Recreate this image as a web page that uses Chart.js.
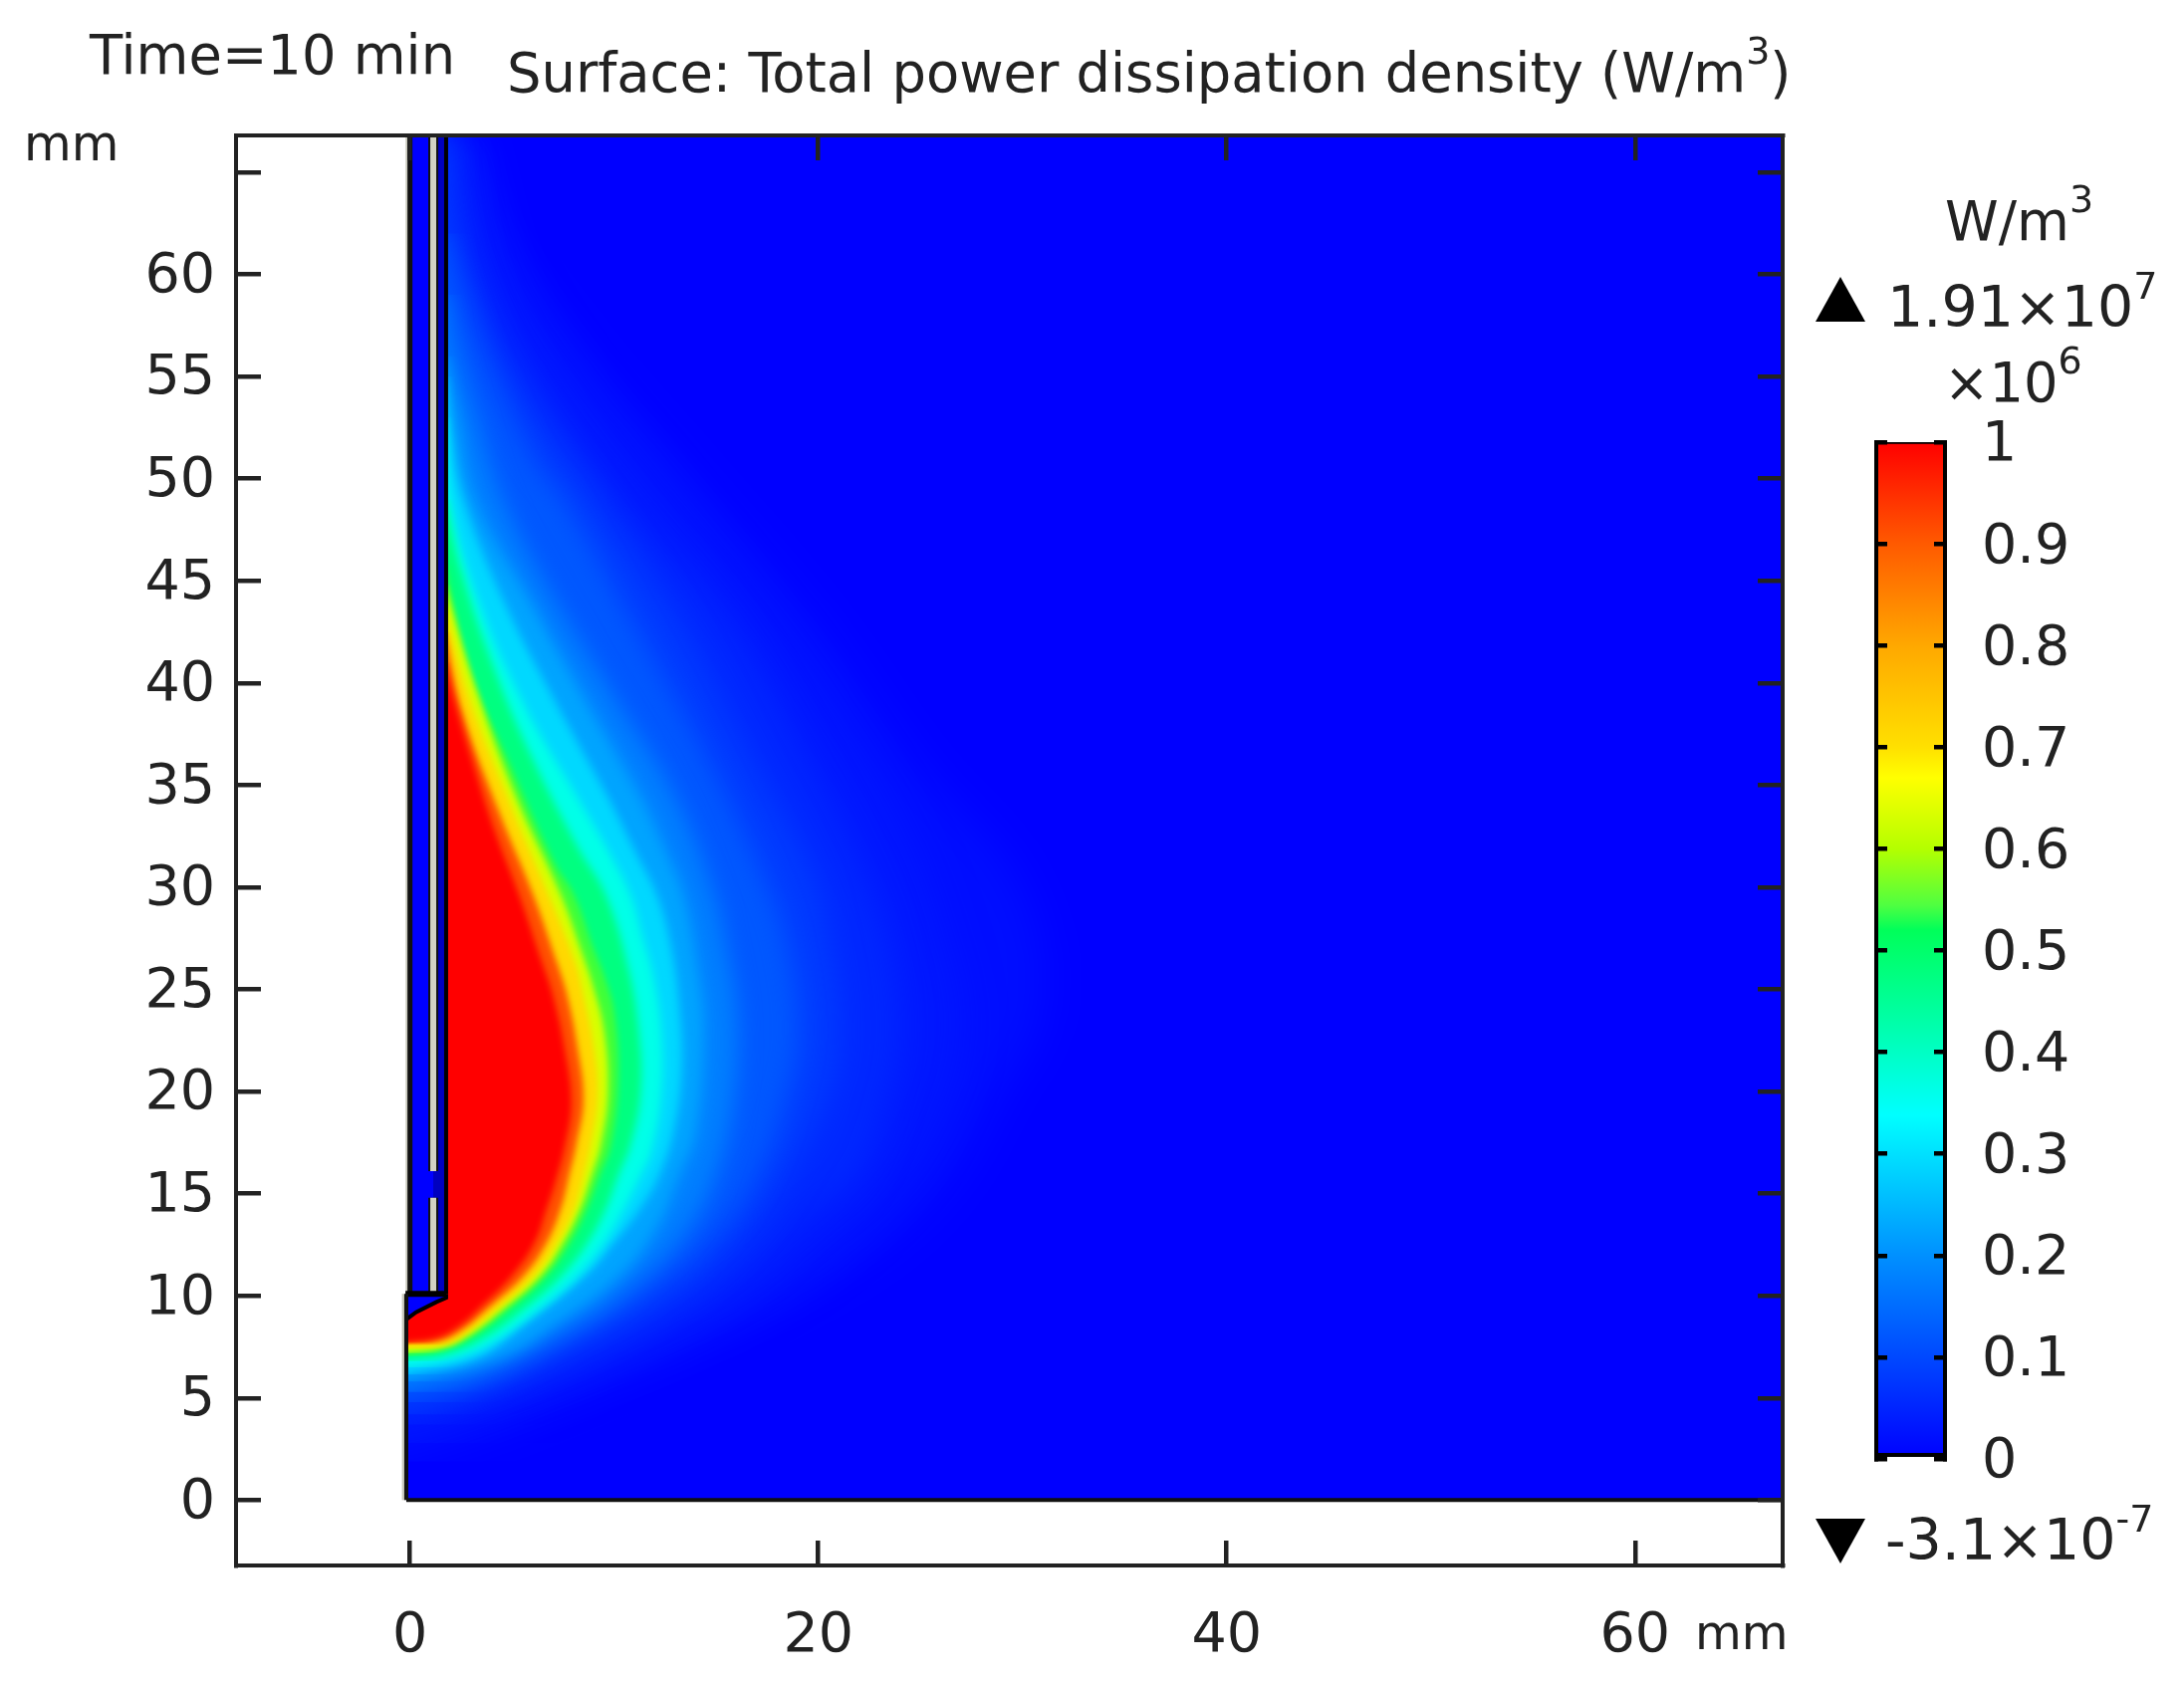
<!DOCTYPE html>
<html>
<head>
<meta charset="utf-8">
<title>Total power dissipation density</title>
<script src="https://cdn.jsdelivr.net/npm/chart.js@4/dist/chart.umd.js"></script>
<style>
html, body { margin: 0; padding: 0; background: #fff; }
#page { position: relative; width: 2193px; height: 1688px; overflow: hidden; filter: blur(0.7px); font-family: "DejaVu Sans"; color: #222; }
canvas { position: absolute; left: 0; top: 0; }
.txt { position: absolute; line-height: 0; white-space: nowrap; font-size: 54.3px; }
.txt i { font-style: normal; font-size: 38px; position: relative; top: -28px; }
.up, .down { position: absolute; left: 1823px; width: 0; height: 0; border-left: 25px solid transparent; border-right: 25px solid transparent; }
.up { top: 278px; border-bottom: 45px solid #000; }
.down { top: 1525px; border-top: 45px solid #000; }
</style>
</head>
<body>
<div id="page">
<canvas id="field" width="2193" height="1688"></canvas>
<canvas id="bar" width="2193" height="1688"></canvas>
<div class="txt" style="left:90px;top:56px">Time=10 min</div>
<div class="txt" style="left:509px;top:74px">Surface: Total power dissipation density (W/m<i>3</i>)</div>
<div class="txt" style="left:24px;top:145px;font-size:49px">mm</div>
<div class="txt" style="left:1702px;top:1639px;font-size:48px">mm</div>
<div class="txt" style="left:1953px;top:223px">W/m<i>3</i></div>
<div class="up"></div>
<div class="txt" style="left:1895px;top:308px;font-size:57px">1.91×10<i>7</i></div>
<div class="txt" style="left:1952px;top:385px">×10<i>6</i></div>
<div class="down"></div>
<div class="txt" style="left:1893px;top:1546px;font-size:57px">-3.1×10<i>-7</i></div>
</div>
<script>
// axis ranges and ticks (mm)
const xRange = [-8.52, 67.23];
const yRange = [-3.2, 66.8];
const xTicks = [0, 20, 40, 60];
const yTicks = [0, 5, 10, 15, 20, 25, 30, 35, 40, 45, 50, 55, 60, 65];
const yTickLabels = ['0', '5', '10', '15', '20', '25', '30', '35', '40', '45', '50', '55', '60', ''];

// contour lines of the field, [x mm, y mm], bottom to top
const contour100 = [[-0.3,7.7],[1.34,7.95],[2.5,8.6],[3.4,9.4],[5,11],[6.1,12.6],[6.7,14.3],[7.1,15.5],[7.6,17.4],[7.9,19.5],[7.55,22.2],[7,24.7],[6.4,26.5],[5.35,29.6],[4.13,32.8],[3.1,36],[2.2,39],[1.7,41]];
const contour085 = [[-0.3,7.6],[1.5,7.8],[2.65,8.4],[3.85,9.4],[5.6,11],[6.7,12.6],[7.4,14.3],[7.8,15.9],[8.15,17.4],[8.5,19.6],[8.2,22.2],[7.7,24.7],[7.2,26.3],[6.05,29.6],[4.4,33.6],[2.6,38.5],[1.7,42.5]];
const contour067 = [[-0.3,7.4],[1.7,7.6],[2.8,8.2],[4.3,9.4],[6.1,11],[7.2,12.6],[8.05,14.3],[8.5,15.9],[8.85,17.4],[9.2,19.8],[9,22.2],[8.5,24.7],[8.1,26.3],[6.8,29.6],[4.77,34.4],[2.9,39.3],[1.7,43.7]];
const contour060 = [[-0.3,7.2],[1.5,7.45],[2.9,8.1],[4.6,9.4],[6.4,11],[7.5,12.6],[8.35,14.3],[8.9,15.9],[9.35,17.4],[9.7,20],[9.5,23],[8.95,25.2],[8.45,26.7],[7.4,29.6],[5.2,34.4],[3.3,39.5],[1.7,44.8]];
const contour052 = [[-0.3,7.05],[1.34,7.3],[3,8],[4.9,9.4],[6.7,11],[7.85,12.6],[8.7,14.3],[9.3,15.9],[9.85,17.4],[10.2,20.6],[10,23.9],[9.5,25.7],[8.95,27.1],[8.05,29.6],[7.07,31.2],[4.9,36],[2.8,40.9],[1.7,45.8]];
const contour043 = [[-0.3,6.8],[1.7,7.1],[3.5,7.85],[5.65,9.4],[7.45,11],[8.7,12.6],[9.6,14.3],[10.2,15.9],[10.8,17.4],[11.3,20],[11.2,23],[10.7,26],[9.6,29.6],[8.2,32],[5.9,36.5],[4.2,40.5],[2.5,45.5],[1.7,49]];
const contour034 = [[-0.3,6.5],[2.2,6.95],[4.1,7.75],[6.4,9.4],[8.2,11],[9.5,12.6],[10.5,14.3],[11.3,15.9],[11.8,17],[12.3,19.8],[12.3,23],[11.9,25.7],[11.4,27.5],[10.8,29.6],[9.7,31.8],[8.2,34.4],[5.4,39.3],[3.3,44.2],[2,49],[1.7,53]];
const contour027 = [[-0.3,6.15],[3.2,6.95],[5.5,8.6],[8.6,11],[10,12.6],[11.3,14.3],[12.2,15.9],[12.9,18],[13.3,21],[13.2,24],[12.8,27],[12.1,29.6],[11,31.8],[9.7,34.4],[7,39.3],[4.5,44.2],[2.6,49],[2,52],[1.7,55]];
const contour020 = [[-0.3,5.8],[4.3,6.95],[7.07,8.6],[10.3,11],[12.1,13.4],[13.2,15.9],[14,18],[14.4,23],[14.1,26],[13.4,29.6],[12.5,31.8],[11.3,34.4],[8.5,39.3],[5.75,44.2],[3.15,49],[2.3,53],[1.7,56]];
const contour015 = [[-0.3,5.3],[3.8,6.4],[8.2,8.6],[11,10.6],[13.4,13],[15,16],[15.9,20],[16,24],[15.5,27],[14.9,29.6],[13,34.4],[10,39.3],[7,44.2],[4.5,49],[3.2,53],[2,57],[1.7,59]];
const contour010 = [[-0.3,4.8],[3.4,5.8],[7.2,7.75],[11.6,10.2],[14.6,12.6],[17,15.9],[18.5,20],[19,23],[18.5,27],[17.7,29.6],[14.7,36],[11.1,42.6],[7.4,49.1],[6.2,50.6],[3.8,55.5],[2.3,59.5],[1.7,62]];
const contour007 = [[-0.3,4.2],[3,5.2],[7.2,7],[12,9.4],[15.5,12],[18.5,15.9],[20.5,20],[21,23],[20.4,28],[19.5,31],[16.8,36],[13.3,42.6],[9,49.1],[5,55],[3,59.5],[2,63],[1.8,66.8]];
const contour005 = [[-0.3,3.7],[2.6,4.6],[7.2,6.2],[12.5,8.6],[16.5,11],[19.5,13.8],[22,15.9],[23.5,20],[24,23],[23.5,27],[22.5,30],[19.5,36],[15.5,43],[10.3,49],[6.2,54.7],[3.4,60],[2.2,66.8]];
const contour003 = [[-0.3,2.8],[3.5,4],[8.5,6],[14,8.2],[19,11],[23,14.5],[25.5,18],[27,23],[26,28],[24,33],[21,38],[17.5,43],[12,50],[8,55],[5,60],[3,66.8]];
const contour002 = [[-0.3,1.9],[5.1,3.8],[12.5,6.95],[21,11],[26,15],[29,20],[31,24],[30,30],[25,36],[20,43],[14,50],[8,57],[4,63],[3.2,66.8]];

// drawn from the outermost contour inwards; each colour is the one just inside its contour
const contourLines = [contour100, contour085, contour067, contour060, contour052, contour043, contour034, contour027, contour020, contour015, contour010, contour007, contour005, contour003, contour002];
const contourColours = ['#ff0000', '#ff5000', '#ffd800', '#d8ff00', '#40ff38', '#00ff80', '#00ffe8', '#00d8ff', '#00a4ff', '#0080ff', '#0058ff', '#003cff', '#0028ff', '#0018ff', '#000eff'];
const contourBlur = [3, 3, 3, 3, 3, 4, 5, 5, 7, 11, 13, 15, 17, 20, 22];

// applicator outline (mm)
const wallRight = [[1.77,10.1],[1.77,66.8]];
const wallLeft = [[0,10.1],[0,66.8]];
const wallHalo = [[-0.14,10.1],[-0.14,66.8]];
const stripeLower = [[1.14,10.1],[1.14,14.8]];
const stripeUpper = [[1.14,16.1],[1.14,66.8]];
const tipEdge = [[-0.18,8.85],[0.3,9.2],[1.3,9.7],[1.77,9.9],[1.77,10.1]];
const tipTop = [[-0.22,10.1],[1.77,10.1]];
const domainLeft = [[-0.18,0],[-0.18,10.1]];
const domainHalo = [[-0.32,0],[-0.32,10.1]];
const domainBottom = [[-0.18,0],[67.23,0]];
const outsideLeft = [[-0.18,0],[-0.18,10.1],[0,10.1],[0,66.8]];
const outsideBelow = [[67.23,-3.2],[67.23,0]];
const fieldBase = [[67.23,0],[67.23,66.8]];

// colour bar
const barTicks = [0, 0.1, 0.2, 0.3, 0.4, 0.5, 0.6, 0.7, 0.8, 0.9, 1];
const barRange = [0, 1];
const barStops = [0, 0.1, 0.2, 0.338, 0.43, 0.52, 0.545, 0.6, 0.67, 0.7, 0.8, 0.9, 1];
const barColours = ['#0000ff', '#0048ff', '#0090ff', '#00ffff', '#00ffa8', '#00ff5a', '#50ff40', '#b4ff00', '#ffff00', '#ffe000', '#ffa800', '#ff5a00', '#ff0000'];

const frame = '#222';
const tickFont = { family: 'DejaVu Sans', size: 55.5 };

function pts(list) {
    return list.map(function(p) { return { x: p[0], y: p[1] }; });
}

function area(list, colour, base) {
    return { data: pts(list), backgroundColor: colour, borderWidth: 0, borderColor: 'transparent', fill: { value: base }, pointRadius: 0 };
}

function stroke(list, colour, width) {
    return { data: pts(list), borderColor: colour, borderWidth: width, fill: false, pointRadius: 0, borderCapStyle: 'butt' };
}

// first dataset ends up on top
var datasets = [
    stroke(domainBottom, '#111', 4),
    stroke(domainLeft, '#111', 4),
    stroke(tipTop, '#000', 6),
    stroke(tipEdge, '#000', 4),
    area(tipEdge, '#0000ff', -0.18),
    stroke(stripeLower, '#d4d4c4', 6),
    stroke(stripeUpper, '#d4d4c4', 6),
    stroke(stripeLower, '#111', 10),
    stroke(stripeUpper, '#111', 10),
    stroke(wallLeft, '#111', 5),
    stroke(wallRight, '#000', 4),
    stroke(wallHalo, '#c8c8bc', 3),
    stroke(domainHalo, '#c8c8bc', 3),
    area(wallRight, '#0000c0', 1.14),
    area(wallRight, '#0000ff', 0),
    area(outsideBelow, '#ffffff', xRange[0]),
    area(outsideLeft, '#ffffff', xRange[0])
];
var blurFrom = datasets.length;
contourLines.forEach(function(line, i) {
    var d = area(line, contourColours[i], -3);
    d.tension = 0.4;
    datasets.push(d);
});
datasets.push(area(fieldBase, '#0000ff', -0.3));

function setBlur(chart, index) {
    var n = index - blurFrom;
    chart.ctx.filter = (n >= 0 && n < contourBlur.length) ? 'blur(' + contourBlur[n] + 'px)' : 'none';
}

// the filler draws in beforeDatasetDraw, so the filter is set when the previous dataset is done
var softEdges = {
    id: 'softEdges',
    beforeDatasetsDraw: function(chart) { setBlur(chart, datasets.length - 1); },
    afterDatasetDraw: function(chart, args) { setBlur(chart, args.index - 1); },
    afterDatasetsDraw: function(chart) { chart.ctx.filter = 'none'; }
};

// each scale takes the whole margin on its side so the plot box lands on fixed pixels
function axis(pos, range, ticks, size, tickLen, lineColour, extra) {
    var horizontal = pos === 'top' || pos === 'bottom';
    var o = {
        type: 'linear',
        position: pos,
        min: range[0],
        max: range[1],
        afterBuildTicks: function(s) { s.ticks = ticks.map(function(v) { return { value: v }; }); },
        afterFit: function(s) { if (horizontal) { s.height = size; } else { s.width = size; } },
        grid: { drawOnChartArea: false, tickLength: -tickLen, color: lineColour, lineWidth: 4.5, z: 1 },
        border: { color: lineColour, width: 4, z: 1 },
        ticks: { display: false, z: 1 }
    };
    if (extra) { o.ticks = Object.assign(o.ticks, extra); }
    return o;
}

new Chart(document.getElementById('field'), {
    type: 'line',
    data: { datasets: datasets },
    plugins: [softEdges],
    options: {
        indexAxis: 'y',
        responsive: false,
        animation: false,
        plugins: { legend: { display: false }, tooltip: { enabled: false } },
        scales: {
            x: axis('bottom', xRange, xTicks, 116, 25, frame, { display: true, font: tickFont, color: frame, maxRotation: 0, autoSkip: false, padding: 63, callback: function(v) { return String(v); } }),
            y: axis('left', yRange, yTicks, 237, 25, frame, { display: true, font: tickFont, color: frame, autoSkip: false, padding: 46, labelOffset: 3, callback: function(v) { return yTickLabels[yTicks.indexOf(v)]; } }),
            x2: axis('top', xRange, xTicks, 136, 25, frame),
            y2: axis('right', yRange, yTicks, 403, 25, frame)
        }
    }
});

new Chart(document.getElementById('bar'), {
    type: 'bar',
    data: {
        labels: ['colour range'],
        datasets: [{
            data: [barRange],
            barPercentage: 1,
            categoryPercentage: 1,
            yAxisID: 'y',
            borderColor: '#000',
            borderSkipped: false,
            borderWidth: { top: 2, bottom: 4, left: 0, right: 0 },
            backgroundColor: function(c) {
                var a = c.chart.chartArea;
                if (!a) { return '#0000ff'; }
                var g = c.chart.ctx.createLinearGradient(0, a.bottom, 0, a.top);
                barStops.forEach(function(s, i) { g.addColorStop(s, barColours[i]); });
                return g;
            }
        }]
    },
    options: {
        responsive: false,
        animation: false,
        layout: { padding: { top: 444, bottom: 223 } },
        plugins: { legend: { display: false }, tooltip: { enabled: false } },
        scales: {
            x: {
                afterFit: function(s) { s.height = 0; },
                grid: { display: false },
                border: { display: false },
                ticks: { display: false }
            },
            y: axis('left', barRange, barTicks, 1884, 11, '#000'),
            y2: axis('right', barRange, barTicks, 240, 11, '#000', { display: true, font: tickFont, color: frame, autoSkip: false, padding: 48, labelOffset: 4, callback: function(v) { return String(v); } })
        }
    }
});
</script>
</body>
</html>
